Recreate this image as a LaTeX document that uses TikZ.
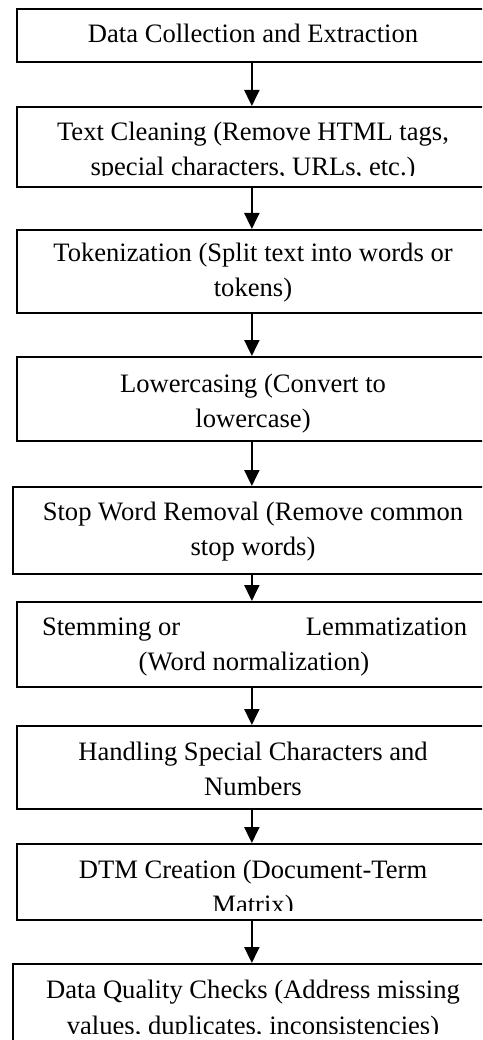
\documentclass[tikz,border=0pt]{standalone}
\usepackage{fontspec}
\setmainfont{Liberation Serif}
\usetikzlibrary{arrows.meta}
\begin{document}
\begin{tikzpicture}[x=1pt,y=1pt,
  box/.style={draw=black,line width=1.7pt,rectangle,inner sep=0pt,anchor=north west},
  ln/.style={anchor=base,inner sep=0pt,font=\fontsize{26.6}{35}\selectfont},
  arr/.style={line width=2pt,-{Triangle[width=15pt,length=16pt]}}]
\useasboundingbox (0,0) rectangle (482,-1040);
\clip (0,0) rectangle (482,-1040);
% boxes
\node[box,minimum width=470pt,minimum height=53pt] (b1) at (16,-8) {};
\node[box,minimum width=470pt,minimum height=80pt] (b2) at (16,-106) {};
\node[box,minimum width=470pt,minimum height=83pt] (b3) at (16,-229) {};
\node[box,minimum width=470pt,minimum height=84pt] (b4) at (16,-356) {};
\node[box,minimum width=478pt,minimum height=87pt] (b5) at (12,-486) {};
\node[box,minimum width=470pt,minimum height=85pt] (b6) at (16,-601) {};
\node[box,minimum width=470pt,minimum height=83pt] (b7) at (16,-725) {};
\node[box,minimum width=470pt,minimum height=76pt] (b8) at (16,-843) {};
\node[box,minimum width=478pt,minimum height=120pt] (b9) at (12,-963) {};
% texts
\node[ln] (t1) at (253,-43) {Data Collection and Extraction};
\begin{scope}
\clip (16,-106) rectangle (486,-176);
\node[ln] (t2a) at (253,-141) {Text Cleaning (Remove HTML tags,};
\node[ln] (t2b) at (253,-175.5) {special characters, URLs, etc.)};
\end{scope}
\node[ln] (t3a) at (253,-262) {Tokenization (Split text into words or};
\node[ln] (t3b) at (253,-297) {tokens)};
\node[ln] (t4a) at (253,-392) {Lowercasing (Convert to};
\node[ln] (t4b) at (253,-427) {lowercase)};
\node[ln] (t5a) at (253,-520) {Stop Word Removal (Remove common};
\node[ln] (t5b) at (253,-555) {stop words)};
\node[ln] (t6a) at (254.5,-635) {\hbox to 425pt{Stemming or\hfill Lemmatization}};
\node[ln] (t6b) at (254,-670) {(Word normalization)};
\node[ln] (t7a) at (253,-760) {Handling Special Characters and};
\node[ln] (t7b) at (253,-795) {Numbers};
\begin{scope}
\clip (16,-843) rectangle (486,-910);
\node[ln] (t8a) at (253,-878) {DTM Creation (Document-Term};
\node[ln] (t8b) at (253,-913) {Matrix)};
\end{scope}
\begin{scope}
\clip (12,-963) rectangle (490,-1033);
\node[ln] (t9a) at (253,-998.5) {Data Quality Checks (Address missing};
\node[ln] (t9b) at (253,-1034) {values, duplicates, inconsistencies)};
\end{scope}
% arrows
\foreach \a/\b in {b1/b2,b2/b3,b3/b4,b4/b5,b5/b6,b6/b7,b7/b8,b8/b9}
  \draw[arr] (\a.south) -- (\b.north);
\end{tikzpicture}
\end{document}
